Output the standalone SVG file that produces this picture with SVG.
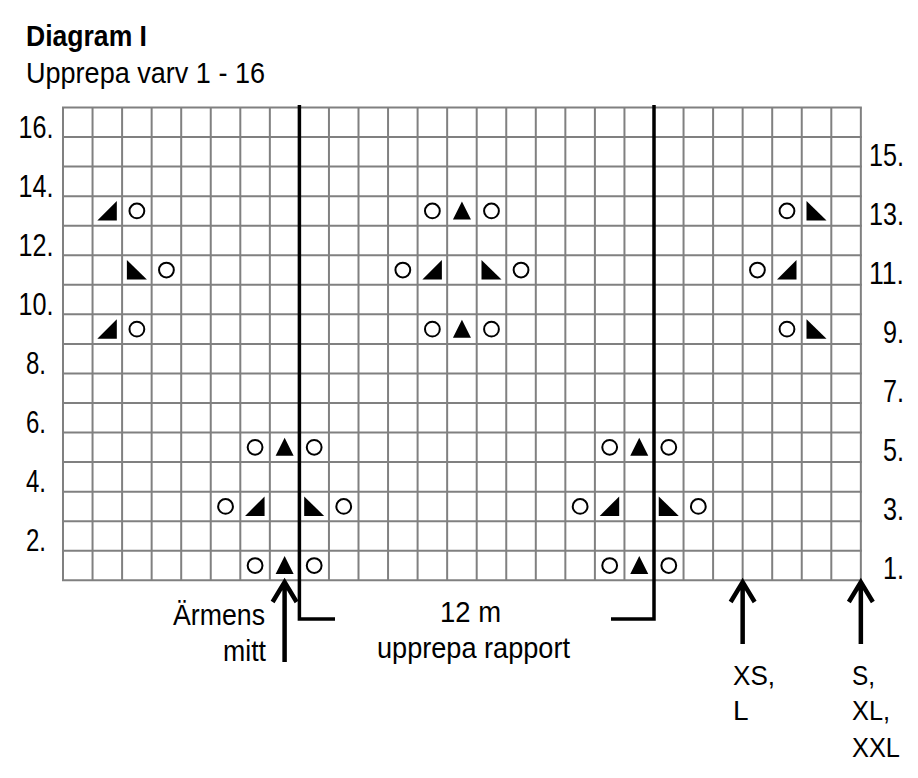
<svg xmlns="http://www.w3.org/2000/svg" xmlns:xlink="http://www.w3.org/1999/xlink" width="918" height="778" viewBox="0 0 918 778">
<style>
.grid line{stroke:#808080;stroke-width:2}
.sym{fill:#000}
.ring{fill:none;stroke:#000;stroke-width:2}
.t{font-family:"Liberation Sans",Arial,sans-serif;fill:#000}
.lbl{font-size:31px}
.bl{font-size:29px}
.sz{font-size:28px}
.thick{fill:none;stroke:#000;stroke-width:3.5}
.arr{fill:none;stroke:#000;stroke-width:4.5;stroke-linejoin:miter}
</style>
<defs>
<circle id="o" cx="0" cy="0" r="7.4" class="ring"/>
<polygon id="up" points="0,-9.5 -9,8.5 9,8.5" class="sym"/>
<polygon id="ll" points="-10,9.5 9.5,9.5 9.5,-10" class="sym"/>
<polygon id="lr" points="-10,-10 -10,9.5 10,9.5" class="sym"/>
</defs>
<rect x="0" y="0" width="918" height="778" fill="#fff"/>
<g id="title">
<text class="t" x="26" y="46" font-size="30" font-weight="bold" textLength="121" lengthAdjust="spacingAndGlyphs">Diagram I</text>
<text class="t" x="26" y="83" font-size="30" textLength="239" lengthAdjust="spacingAndGlyphs">Upprepa varv 1 - 16</text>
</g>
<g id="grid" class="grid">
<line x1="63" y1="107.5" x2="63" y2="580.3"/>
<line x1="92.55" y1="107.5" x2="92.55" y2="580.3"/>
<line x1="122.1" y1="107.5" x2="122.1" y2="580.3"/>
<line x1="151.65" y1="107.5" x2="151.65" y2="580.3"/>
<line x1="181.2" y1="107.5" x2="181.2" y2="580.3"/>
<line x1="210.75" y1="107.5" x2="210.75" y2="580.3"/>
<line x1="240.3" y1="107.5" x2="240.3" y2="580.3"/>
<line x1="269.85" y1="107.5" x2="269.85" y2="580.3"/>
<line x1="299.4" y1="107.5" x2="299.4" y2="580.3"/>
<line x1="328.95" y1="107.5" x2="328.95" y2="580.3"/>
<line x1="358.5" y1="107.5" x2="358.5" y2="580.3"/>
<line x1="388.05" y1="107.5" x2="388.05" y2="580.3"/>
<line x1="417.6" y1="107.5" x2="417.6" y2="580.3"/>
<line x1="447.15" y1="107.5" x2="447.15" y2="580.3"/>
<line x1="476.7" y1="107.5" x2="476.7" y2="580.3"/>
<line x1="506.25" y1="107.5" x2="506.25" y2="580.3"/>
<line x1="535.8" y1="107.5" x2="535.8" y2="580.3"/>
<line x1="565.35" y1="107.5" x2="565.35" y2="580.3"/>
<line x1="594.9" y1="107.5" x2="594.9" y2="580.3"/>
<line x1="624.45" y1="107.5" x2="624.45" y2="580.3"/>
<line x1="654" y1="107.5" x2="654" y2="580.3"/>
<line x1="683.55" y1="107.5" x2="683.55" y2="580.3"/>
<line x1="713.1" y1="107.5" x2="713.1" y2="580.3"/>
<line x1="742.65" y1="107.5" x2="742.65" y2="580.3"/>
<line x1="772.2" y1="107.5" x2="772.2" y2="580.3"/>
<line x1="801.75" y1="107.5" x2="801.75" y2="580.3"/>
<line x1="831.3" y1="107.5" x2="831.3" y2="580.3"/>
<line x1="860.85" y1="107.5" x2="860.85" y2="580.3"/>
<line x1="62" y1="107.5" x2="861.85" y2="107.5"/>
<line x1="62" y1="137.05" x2="861.85" y2="137.05"/>
<line x1="62" y1="166.6" x2="861.85" y2="166.6"/>
<line x1="62" y1="196.15" x2="861.85" y2="196.15"/>
<line x1="62" y1="225.7" x2="861.85" y2="225.7"/>
<line x1="62" y1="255.25" x2="861.85" y2="255.25"/>
<line x1="62" y1="284.8" x2="861.85" y2="284.8"/>
<line x1="62" y1="314.35" x2="861.85" y2="314.35"/>
<line x1="62" y1="343.9" x2="861.85" y2="343.9"/>
<line x1="62" y1="373.45" x2="861.85" y2="373.45"/>
<line x1="62" y1="403" x2="861.85" y2="403"/>
<line x1="62" y1="432.55" x2="861.85" y2="432.55"/>
<line x1="62" y1="462.1" x2="861.85" y2="462.1"/>
<line x1="62" y1="491.65" x2="861.85" y2="491.65"/>
<line x1="62" y1="521.2" x2="861.85" y2="521.2"/>
<line x1="62" y1="550.75" x2="861.85" y2="550.75"/>
<line x1="62" y1="580.3" x2="861.85" y2="580.3"/>
</g>
<g id="symbols">
<use href="#o" x="255.08" y="565.53"/><use href="#up" x="284.63" y="565.53"/><use href="#o" x="314.18" y="565.53"/>
<use href="#o" x="609.68" y="565.53"/><use href="#up" x="639.23" y="565.53"/><use href="#o" x="668.78" y="565.53"/>
<use href="#o" x="225.53" y="506.43"/><use href="#ll" x="255.08" y="506.43"/><use href="#lr" x="314.18" y="506.43"/><use href="#o" x="343.73" y="506.43"/>
<use href="#o" x="580.13" y="506.43"/><use href="#ll" x="609.68" y="506.43"/><use href="#lr" x="668.78" y="506.43"/><use href="#o" x="698.33" y="506.43"/>
<use href="#o" x="255.08" y="447.33"/><use href="#up" x="284.63" y="447.33"/><use href="#o" x="314.18" y="447.33"/>
<use href="#o" x="609.68" y="447.33"/><use href="#up" x="639.23" y="447.33"/><use href="#o" x="668.78" y="447.33"/>
<use href="#ll" x="107.33" y="329.13"/><use href="#o" x="136.88" y="329.13"/>
<use href="#o" x="432.38" y="329.13"/><use href="#up" x="461.93" y="329.13"/><use href="#o" x="491.48" y="329.13"/>
<use href="#o" x="786.98" y="329.13"/><use href="#lr" x="816.53" y="329.13"/>
<use href="#lr" x="136.88" y="270.03"/><use href="#o" x="166.43" y="270.03"/>
<use href="#o" x="402.83" y="270.03"/><use href="#ll" x="432.38" y="270.03"/><use href="#lr" x="491.48" y="270.03"/><use href="#o" x="521.03" y="270.03"/>
<use href="#o" x="757.43" y="270.03"/><use href="#ll" x="786.98" y="270.03"/>
<use href="#ll" x="107.33" y="210.93"/><use href="#o" x="136.88" y="210.93"/>
<use href="#o" x="432.38" y="210.93"/><use href="#up" x="461.93" y="210.93"/><use href="#o" x="491.48" y="210.93"/>
<use href="#o" x="786.98" y="210.93"/><use href="#lr" x="816.53" y="210.93"/>
</g>
<g id="row-labels-left" class="t lbl" text-anchor="middle">
<text x="36" y="137.5" textLength="35" lengthAdjust="spacingAndGlyphs">16.</text>
<text x="36" y="196.5" textLength="35" lengthAdjust="spacingAndGlyphs">14.</text>
<text x="36" y="255.5" textLength="35" lengthAdjust="spacingAndGlyphs">12.</text>
<text x="36" y="314.5" textLength="35" lengthAdjust="spacingAndGlyphs">10.</text>
<text x="36" y="373.5" textLength="20" lengthAdjust="spacingAndGlyphs">8.</text>
<text x="36" y="432.5" textLength="20" lengthAdjust="spacingAndGlyphs">6.</text>
<text x="36" y="491.5" textLength="20" lengthAdjust="spacingAndGlyphs">4.</text>
<text x="36" y="550.5" textLength="20" lengthAdjust="spacingAndGlyphs">2.</text>
</g>
<g id="row-labels-right" class="t lbl" text-anchor="end">
<text x="904" y="166" textLength="35" lengthAdjust="spacingAndGlyphs">15.</text>
<text x="904" y="225" textLength="35" lengthAdjust="spacingAndGlyphs">13.</text>
<text x="904" y="284" textLength="35" lengthAdjust="spacingAndGlyphs">11.</text>
<text x="904" y="343" textLength="21" lengthAdjust="spacingAndGlyphs">9.</text>
<text x="904" y="402" textLength="21" lengthAdjust="spacingAndGlyphs">7.</text>
<text x="904" y="461" textLength="21" lengthAdjust="spacingAndGlyphs">5.</text>
<text x="904" y="520" textLength="21" lengthAdjust="spacingAndGlyphs">3.</text>
<text x="904" y="579" textLength="21" lengthAdjust="spacingAndGlyphs">1.</text>
</g>
<g id="connectors">
<path class="thick" d="M299.4,105 V619 H335"/>
<path class="thick" d="M654,105 V619 H611"/>
<path class="arr" d="M284.6,662 V583 M272.6,602 L284.6,582 L296.6,602"/>
<path class="arr" d="M742.65,644 V583 M730.65,602 L742.65,582 L754.65,602"/>
<path class="arr" d="M860.85,644 V583 M848.85,602 L860.85,582 L872.85,602"/>
</g>
<g id="label-armens" class="t bl" text-anchor="end">
<text x="265" y="625" textLength="92" lengthAdjust="spacingAndGlyphs">Ärmens</text>
<text x="266" y="661" textLength="43" lengthAdjust="spacingAndGlyphs">mitt</text>
</g>
<g id="label-repeat" class="t bl">
<text x="440" y="622" textLength="61" lengthAdjust="spacingAndGlyphs">12 m</text>
<text x="377" y="658" textLength="193" lengthAdjust="spacingAndGlyphs">upprepa rapport</text>
</g>
<g id="label-xs-l" class="t sz">
<text x="733" y="685" textLength="42" lengthAdjust="spacingAndGlyphs">XS,</text>
<text x="733" y="720">L</text>
</g>
<g id="label-s-xl-xxl" class="t sz">
<text x="852" y="685" textLength="23" lengthAdjust="spacingAndGlyphs">S,</text>
<text x="852" y="720" textLength="38" lengthAdjust="spacingAndGlyphs">XL,</text>
<text x="852" y="757" textLength="48" lengthAdjust="spacingAndGlyphs">XXL</text>
</g>
</svg>
